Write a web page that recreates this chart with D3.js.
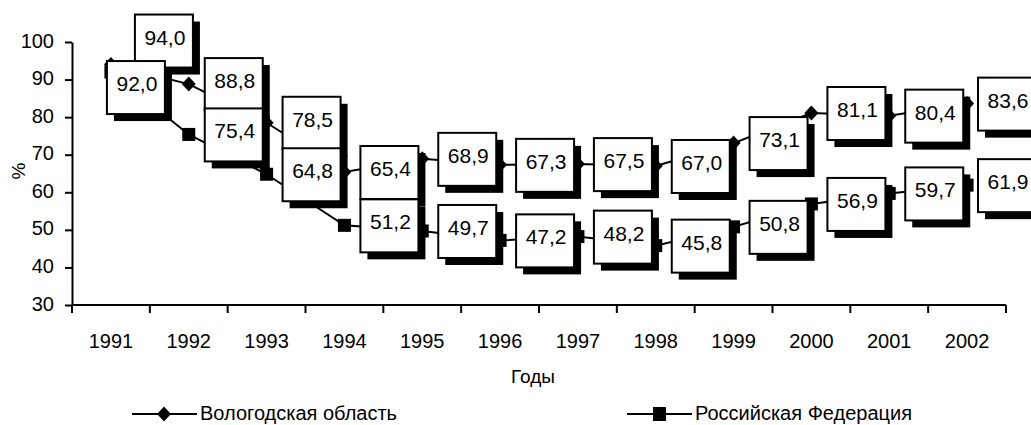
<!DOCTYPE html>
<html>
<head>
<meta charset="utf-8">
<script src="https://cdn.jsdelivr.net/npm/d3@7"></script>
<style>
  html, body { margin: 0; padding: 0; background: #fff; overflow: hidden; }
  svg { display: block; font-family: "Liberation Sans", Arial, sans-serif; }
</style>
</head>
<body>
<svg id="chart" width="1031" height="425"></svg>
<script>
// ---- data ----
const years = ["1991","1992","1993","1994","1995","1996","1997","1998","1999","2000","2001","2002"];
const vologda = [94.0, 88.8, 78.5, 65.4, 68.9, 67.3, 67.5, 67.0, 73.1, 81.1, 80.4, 83.6];
const russia  = [92.0, 75.4, 64.8, 51.2, 49.7, 47.2, 48.2, 45.8, 50.8, 56.9, 59.7, 61.9];
const yTicks = [30, 40, 50, 60, 70, 80, 90, 100];
const seriesNames = ["Вологодская область", "Российская Федерация"];
const xTitle = "Годы";
const yTitle = "%";

// ---- layout ----
const W = 1031, H = 425;
const svg = d3.select("#chart");
const x = d3.scaleBand().domain(years).range([72, 1006]).padding(0);
const y = d3.scaleLinear().domain([30, 100]).range([305, 42]);
const cx = d => x(d) + x.bandwidth() / 2;
const fmt = v => d3.format(".1f")(v).replace(".", ",");

// Y axis
const yAxis = svg.append("g").attr("transform", "translate(72,0)")
  .call(d3.axisLeft(y).tickValues(yTicks).tickSize(7).tickSizeOuter(0).tickPadding(11));
yAxis.select(".domain").attr("stroke", "#000").attr("stroke-width", 2);
yAxis.selectAll(".tick line").attr("stroke", "#000").attr("stroke-width", 2);
yAxis.selectAll(".tick text").attr("font-size", 20).attr("fill", "#000")
  .attr("font-family", "Liberation Sans, Arial, sans-serif").attr("dy", "0.25em");

// X axis (labels at band centres, ticks at band boundaries)
const xAxis = svg.append("g").attr("transform", "translate(0,305)")
  .call(d3.axisBottom(x).tickSize(0).tickSizeOuter(0).tickPadding(29));
xAxis.select(".domain").remove();
xAxis.selectAll(".tick text").attr("font-size", 20).attr("fill", "#000")
  .attr("font-family", "Liberation Sans, Arial, sans-serif");
svg.append("line").attr("x1", x.range()[0]).attr("x2", x.range()[1])
  .attr("y1", 305).attr("y2", 305).attr("stroke", "#000").attr("stroke-width", 2);
const bounds = years.map(d => x(d)).concat([x.range()[1]]);
svg.append("g").selectAll("line").data(bounds).join("line")
  .attr("x1", d => d).attr("x2", d => d).attr("y1", 305).attr("y2", 313)
  .attr("stroke", "#000").attr("stroke-width", 2);

// Axis titles
svg.append("text").attr("x", 533).attr("y", 383).attr("text-anchor", "middle")
  .attr("font-size", 19).text(xTitle);
svg.append("text").attr("transform", "translate(25,171) rotate(-90)")
  .attr("text-anchor", "middle").attr("font-size", 19).text(yTitle);

// Lines
const lineGen = d3.line().x((d, i) => cx(years[i])).y(d => y(d));
[vologda, russia].forEach(s => {
  svg.append("path").datum(s).attr("d", lineGen)
    .attr("fill", "none").attr("stroke", "#000").attr("stroke-width", 2);
});

// Markers
const diamond = "M0,-7.5L7,0L0,7.5L-7,0Z";
svg.append("g").selectAll("path").data(vologda).join("path")
  .attr("d", diamond).attr("transform", (d, i) => `translate(${cx(years[i])},${y(d)})`)
  .attr("fill", "#000");
svg.append("g").selectAll("rect").data(russia).join("rect")
  .attr("x", (d, i) => cx(years[i]) - 6.5).attr("y", d => y(d) - 6.5)
  .attr("width", 13).attr("height", 13).attr("fill", "#000");

// Data labels (boxes with shadow)
const boxW = 58, boxH = 53, sh = 7;
function drawLabels(series, special) {
  const g = svg.append("g");
  series.forEach((v, i) => {
    const px = cx(years[i]), py = y(v);
    let left = Math.min(px + 16, W + 5 - boxW);
    let top = py - 26;
    if (special[i]) { left = px + special[i][0]; top = py + special[i][1]; }
    g.append("rect").attr("x", left + sh).attr("y", top + sh)
      .attr("width", boxW).attr("height", boxH).attr("fill", "#000");
    g.append("rect").attr("x", left).attr("y", top)
      .attr("width", boxW).attr("height", boxH)
      .attr("fill", "#fff").attr("stroke", "#000").attr("stroke-width", 2);
    g.append("text").attr("x", left + boxW / 2 + 1).attr("y", top + 30)
      .attr("text-anchor", "middle").attr("font-size", 21).text(fmt(v));
  });
}
drawLabels(vologda, {0: [24, -50]});
drawLabels(russia, {0: [-4, -11]});

// Legend
const legend = [
  {name: seriesNames[0], x0: 132, sym: "diamond"},
  {name: seriesNames[1], x0: 627, sym: "square"}
];
legend.forEach(l => {
  const g = svg.append("g");
  g.append("line").attr("x1", l.x0).attr("x2", l.x0 + 65).attr("y1", 414).attr("y2", 414)
    .attr("stroke", "#000").attr("stroke-width", 2);
  if (l.sym === "diamond") {
    g.append("path").attr("d", diamond).attr("transform", `translate(${l.x0 + 32},414)`).attr("fill", "#000");
  } else {
    g.append("rect").attr("x", l.x0 + 26).attr("y", 407).attr("width", 13).attr("height", 14).attr("fill", "#000");
  }
  g.append("text").attr("x", l.x0 + 68).attr("y", 420).attr("font-size", 20).text(l.name);
});
</script>
</body>
</html>
